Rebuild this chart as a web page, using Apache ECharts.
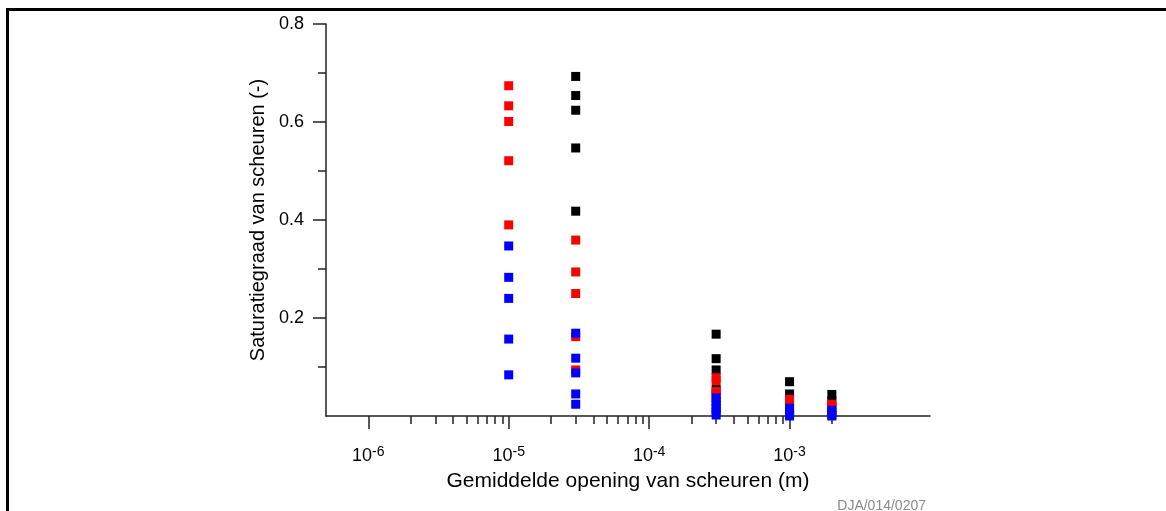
<!DOCTYPE html>
<html>
<head>
<meta charset="utf-8">
<script src="https://cdn.jsdelivr.net/npm/echarts@6/dist/echarts.min.js"></script>
<style>
  html, body { margin: 0; padding: 0; background: #fff; }
  #wrap { position: relative; width: 1166px; height: 511px; overflow: hidden; }
  #frame { position: absolute; left: 6px; top: 8px; width: 1200px; height: 600px;
           border-left: 3px solid #000; border-top: 3px solid #000; pointer-events: none; }
  #chart { position: absolute; left: 0; top: 0; width: 1166px; height: 511px; }
</style>
</head>
<body>
<div id="wrap">
  <div id="chart"></div>
  <div id="frame"></div>
</div>
<script>
// punten per kleur: [opening (m), saturatiegraad (-)]
const blackPoints = [
  [3e-5, 0.693], [3e-5, 0.654], [3e-5, 0.624], [3e-5, 0.547], [3e-5, 0.418],
  [3e-4, 0.167], [3e-4, 0.117], [3e-4, 0.094], [3e-4, 0.054],
  [1e-3, 0.070], [1e-3, 0.045],
  [2e-3, 0.044], [2e-3, 0.030]
];
const redPoints = [
  [1e-5, 0.674], [1e-5, 0.633], [1e-5, 0.601], [1e-5, 0.521], [1e-5, 0.390],
  [3e-5, 0.359], [3e-5, 0.294], [3e-5, 0.250], [3e-5, 0.162], [3e-5, 0.094],
  [3e-4, 0.078], [3e-4, 0.072], [3e-4, 0.050], [3e-4, 0.044],
  [1e-3, 0.034], [1e-3, 0.028],
  [2e-3, 0.024], [2e-3, 0.019]
];
const bluePoints = [
  [1e-5, 0.347], [1e-5, 0.283], [1e-5, 0.240], [1e-5, 0.157], [1e-5, 0.084],
  [3e-5, 0.169], [3e-5, 0.118], [3e-5, 0.088], [3e-5, 0.045], [3e-5, 0.024],
  [3e-4, 0.037], [3e-4, 0.030], [3e-4, 0.022], [3e-4, 0.015], [3e-4, 0.008], [3e-4, 0.002],
  [1e-3, 0.016], [1e-3, 0.010], [1e-3, 0.004], [1e-3, 0.000],
  [2e-3, 0.012], [2e-3, 0.007], [2e-3, 0.002], [2e-3, 0.000]
];

// as-indeling
const xMajorTicks = [1e-6, 1e-5, 1e-4, 1e-3];
const xMinorTicks = [
  2e-6, 3e-6, 4e-6, 5e-6, 6e-6, 7e-6, 8e-6, 9e-6,
  2e-5, 3e-5, 4e-5, 5e-5, 6e-5, 7e-5, 8e-5, 9e-5,
  2e-4, 3e-4, 4e-4, 5e-4, 6e-4, 7e-4, 8e-4, 9e-4,
  2e-3
];
const yTicks = [0.2, 0.4, 0.6, 0.8];

const font = 'Liberation Sans, Arial, sans-serif';
const axisColor = '#222';

const myChart = echarts.init(document.getElementById('chart'));

function scatter(points, color) {
  return {
    type: 'scatter',
    xAxisIndex: 0,
    symbol: 'rect',
    symbolSize: 9,
    itemStyle: { color: color, opacity: 1 },
    data: points
  };
}

const option = {
  animation: false,
  backgroundColor: '#fff',
  textStyle: { fontFamily: font },
  grid: { left: 326, right: 236, top: 24, bottom: 95 },
  xAxis: [
    {
      type: 'log',
      min: 5e-7,
      max: 1e-2,
      name: 'Gemiddelde opening van scheuren (m)',
      nameLocation: 'middle',
      nameGap: 49,
      nameTextStyle: { fontSize: 21, color: '#000', fontFamily: font },
      axisLine: { show: true, lineStyle: { color: axisColor, width: 1.5 } },
      axisTick: { show: true, length: 13, customValues: xMajorTicks, lineStyle: { color: axisColor, width: 1.5 } },
      axisLabel: {
        customValues: xMajorTicks,
        margin: 29,
        formatter: function (v) {
          return '10{sup|' + Math.round(Math.log10(v)) + '}';
        },
        fontSize: 18,
        color: '#000',
        fontFamily: font,
        rich: {
          sup: { fontSize: 14, color: '#000', fontFamily: font, verticalAlign: 'top', padding: [0, 0, 9, 0] }
        }
      },
      splitLine: { show: false }
    },
    {
      type: 'log',
      min: 5e-7,
      max: 1e-2,
      position: 'bottom',
      axisLine: { show: false },
      axisTick: { show: true, length: 8, customValues: xMinorTicks, lineStyle: { color: axisColor, width: 1.5 } },
      axisLabel: { show: false },
      splitLine: { show: false }
    }
  ],
  yAxis: {
    type: 'value',
    min: 0,
    max: 0.8,
    interval: 0.2,
    name: 'Saturatiegraad van scheuren (-)',
    nameLocation: 'middle',
    nameGap: 57,
    nameTextStyle: { fontSize: 20, color: '#000', fontFamily: font },
    axisLine: { show: true, lineStyle: { color: axisColor, width: 1.5 } },
    axisTick: { show: true, length: 13, customValues: yTicks, lineStyle: { color: axisColor, width: 1.5 } },
    minorTick: { show: true, splitNumber: 2, length: 8, lineStyle: { color: axisColor, width: 1.5 } },
    axisLabel: {
      customValues: yTicks,
      margin: 22,
      fontSize: 18,
      color: '#000',
      fontFamily: font,
      formatter: function (v) { return v.toFixed(1); }
    },
    splitLine: { show: false },
    minorSplitLine: { show: false }
  },
  graphic: [
    {
      type: 'text',
      right: 240,
      top: 499,
      style: { text: 'DJA/014/0207', fontSize: 14, fill: '#8a8a8a', fontFamily: font }
    }
  ],
  series: [
    scatter(blackPoints, '#000000'),
    scatter(redPoints, '#ff0000'),
    scatter(bluePoints, '#0000ff')
  ]
};

myChart.setOption(option);
</script>
</body>
</html>
